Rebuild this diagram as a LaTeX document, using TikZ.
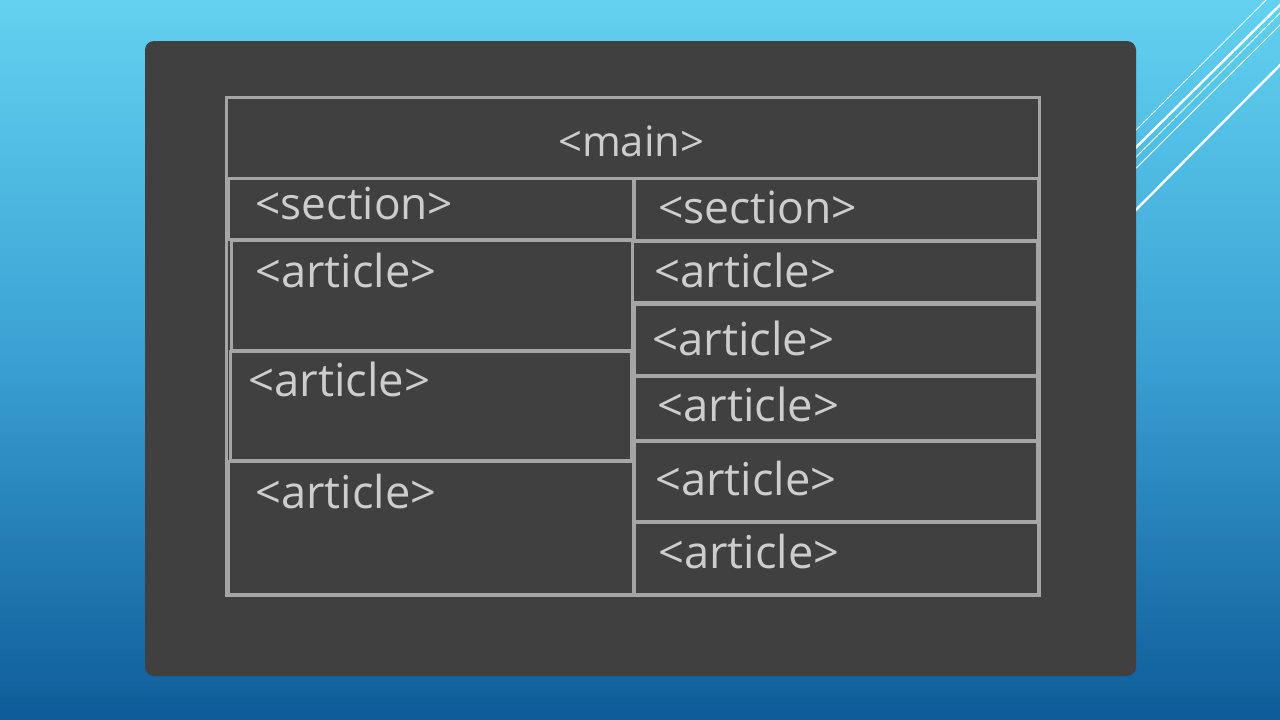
\documentclass[tikz,border=0pt]{standalone}
\usepackage{fontspec}
\setmainfont{Open Sans}
\usepackage{graphicx}
\definecolor{bgtop}{RGB}{98,210,240}
\definecolor{bgmid}{RGB}{58,160,210}
\definecolor{bgbot}{RGB}{14,92,153}
\definecolor{panel}{RGB}{64,64,64}
\definecolor{rule}{RGB}{165,165,165}
\definecolor{chalk}{RGB}{205,205,205}
\tikzset{
  box/.style={draw=rule, line width=3pt, inner sep=0pt, outer sep=0pt},
  tag/.style={text=chalk, inner sep=0pt, anchor=west},
  deco/.style={draw=white, line cap=round},
}
\newcommand\lbl[2]{\resizebox{#1pt}{!}{#2}}
\begin{document}
\begin{tikzpicture}[x=1pt,y=-1pt]
\useasboundingbox (0,0) rectangle (1280,720);
\shade[top color=bgtop, bottom color=bgbot, middle color=bgmid] (0,0) rectangle (1280,720);
% decorative diagonal lines
\draw[deco, line width=0.8pt] (1266,0) -- (1100,166);
\draw[deco, line width=2.4pt] (1282,3) -- (1100,183);
\draw[deco, line width=0.8pt] (1282,11) -- (1100,193);
\draw[deco, line width=0.8pt] (1282,23) -- (1100,204);
\draw[deco, line width=2.4pt] (1282,63) -- (1100,246);
% panel
\fill[panel, rounded corners=9pt] (145,41) rectangle (1136,676);
% boxes
\node[box, minimum width=813pt, minimum height=498pt] (mainbox) at (632.5,346) {};
\node[box, minimum width=813pt, minimum height=81pt] (mainhdr) at (632.5,137.5) {};
\node[box, minimum width=405pt, minimum height=61pt] (ls) at (430.5,208.5) {};
\node[box, minimum width=401pt, minimum height=110pt] (la1) at (431.5,295) {};
\node[box, minimum width=401pt, minimum height=109pt] (la2) at (430.5,405.5) {};
\node[box, minimum width=405pt, minimum height=133pt] (la3) at (430.5,527.5) {};
\node[box, minimum width=404pt, minimum height=62pt] (rs) at (836,209) {};
\node[box, minimum width=405pt, minimum height=61pt] (ra1) at (834.5,271.5) {};
\node[box, minimum width=403pt, minimum height=71pt] (ra2) at (835.5,339.5) {};
\node[box, minimum width=403pt, minimum height=64pt] (ra3) at (835.5,408) {};
\node[box, minimum width=403pt, minimum height=80pt] (ra4) at (835.5,481) {};
\node[box, minimum width=404pt, minimum height=72pt] (ra5) at (836,558) {};
% labels
\node[tag] (tmain) at (558,141) {\lbl{146}{<main>}};
\node[tag] (tls) at (255,204) {\lbl{198}{<section>}};
\node[tag] (trs) at (658,207) {\lbl{199}{<section>}};
\node[tag] (tla1) at (255,271) {\lbl{181}{<article>}};
\node[tag] (tla2) at (248,379) {\lbl{182}{<article>}};
\node[tag] (tla3) at (255,492) {\lbl{181}{<article>}};
\node[tag] (tra1) at (654,270) {\lbl{182}{<article>}};
\node[tag] (tra2) at (652,338) {\lbl{182}{<article>}};
\node[tag] (tra3) at (657,404) {\lbl{182}{<article>}};
\node[tag] (tra4) at (655,479) {\lbl{181}{<article>}};
\node[tag] (tra5) at (658,552) {\lbl{181}{<article>}};
\end{tikzpicture}
\end{document}
